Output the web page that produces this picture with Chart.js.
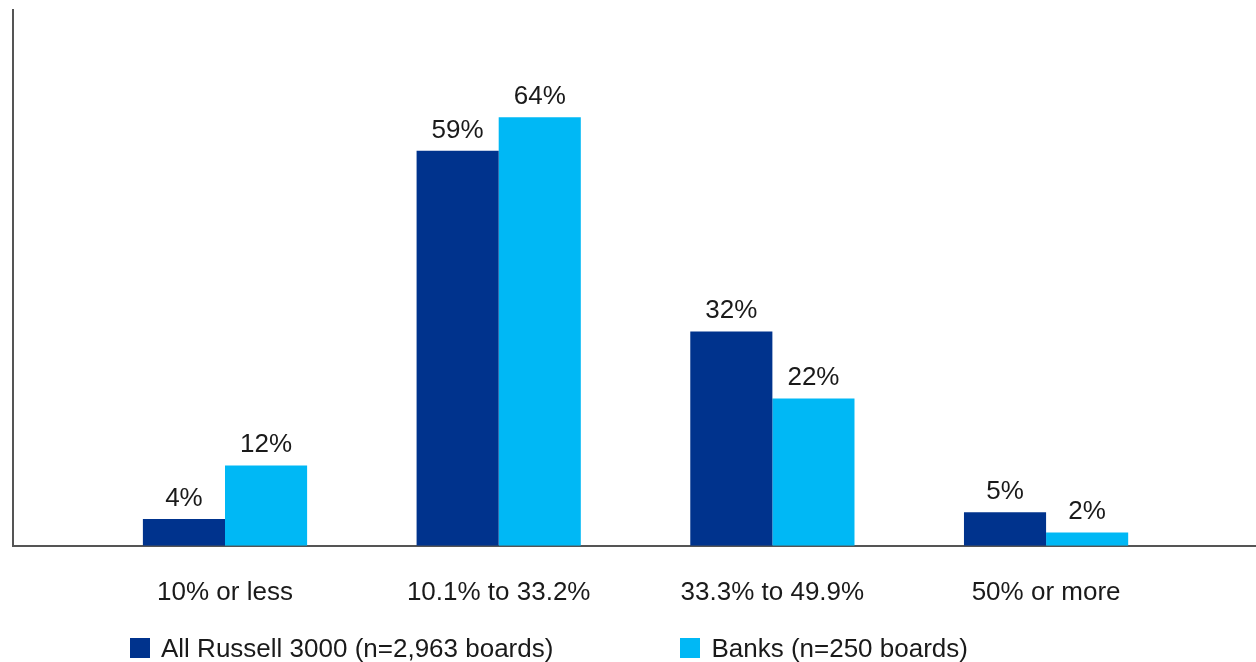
<!DOCTYPE html>
<html>
<head>
<meta charset="utf-8">
<script src="https://cdn.jsdelivr.net/npm/chart.js@4/dist/chart.umd.min.js"></script>
<style>
  html, body { margin: 0; padding: 0; background: #fff; }
  #wrap { position: relative; width: 1256px; height: 662px; }
  canvas { position: absolute; left: 0; top: 0; }
  #legend { position: absolute; left: 130px; top: 633px; display: flex; font-family: "Liberation Sans", Arial, sans-serif; font-size: 26px; color: #1a1a1a; }
  .item { display: flex; align-items: center; height: 30px; }
  .box { width: 20px; height: 20px; margin-right: 11px; }
</style>
</head>
<body>
<div id="wrap">
  <canvas id="c" width="1256" height="662"></canvas>
  <div id="legend"></div>
</div>
<script>
const categories = ['10% or less', '10.1% to 33.2%', '33.3% to 49.9%', '50% or more'];
const seriesNames = ['All Russell 3000 (n=2,963 boards)', 'Banks (n=250 boards)'];
const russellValues = [4, 59, 32, 5];
const bankValues = [12, 64, 22, 2];
const seriesColors = ['#00338D', '#00B8F5'];

const FONT = '"Liberation Sans", Arial, sans-serif';
const TEXT = '#1a1a1a';

const toPoints = vals => vals.map((v, i) => ({ x: i, y: v }));

const valueLabels = {
  id: 'valueLabels',
  afterDatasetsDraw(chart) {
    const ctx = chart.ctx;
    ctx.save();
    ctx.font = '26px ' + FONT;
    ctx.fillStyle = TEXT;
    ctx.textAlign = 'center';
    ctx.textBaseline = 'alphabetic';
    chart.data.datasets.forEach((ds, di) => {
      const meta = chart.getDatasetMeta(di);
      meta.data.forEach((el, i) => {
        ctx.fillText(ds.data[i].y + '%', el.x, el.y - 13);
      });
    });
    ctx.restore();
  }
};

new Chart(document.getElementById('c'), {
  type: 'bar',
  data: {
    datasets: [
      { label: seriesNames[0], data: toPoints(russellValues), backgroundColor: seriesColors[0] },
      { label: seriesNames[1], data: toPoints(bankValues), backgroundColor: seriesColors[1] }
    ]
  },
  options: {
    responsive: false,
    animation: false,
    layout: { padding: { left: 13, right: 0, top: 10, bottom: 23 } },
    datasets: { bar: { categoryPercentage: 0.6, barPercentage: 1.0 } },
    plugins: { legend: { display: false }, tooltip: { enabled: false } },
    scales: {
      x: {
        type: 'linear',
        offset: false,
        min: -0.7746,
        max: 3.767,
        grid: { display: false, drawTicks: false },
        border: { display: true, color: '#555', width: 2 },
        ticks: {
          stepSize: 1,
          includeBounds: false,
          autoSkip: false,
          maxRotation: 0,
          padding: 31,
          color: TEXT,
          font: { family: FONT, size: 26 },
          callback: v => (Number.isInteger(v) && categories[v] !== undefined) ? categories[v] : ''
        }
      },
      y: {
        min: 0,
        max: 80,
        grid: { display: false, drawTicks: false },
        border: { display: true, color: '#555', width: 2 },
        ticks: { display: false }
      }
    }
  },
  plugins: [valueLabels]
});

const legend = document.getElementById('legend');
seriesNames.forEach((name, i) => {
  const item = document.createElement('div');
  item.className = 'item';
  item.style.marginRight = i === 0 ? '127px' : '0';
  const box = document.createElement('div');
  box.className = 'box';
  box.style.background = seriesColors[i];
  const txt = document.createElement('span');
  txt.textContent = name;
  item.appendChild(box);
  item.appendChild(txt);
  legend.appendChild(item);
});
</script>
</body>
</html>
